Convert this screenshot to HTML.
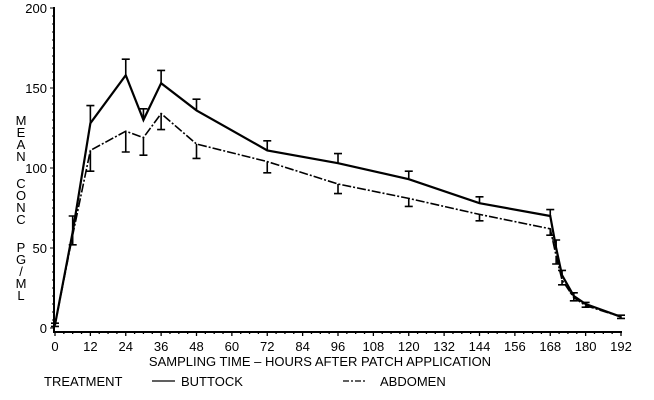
<!DOCTYPE html>
<html><head><meta charset="utf-8"><style>
body{margin:0;background:#fff}
svg{display:block;font-family:"Liberation Sans",Arial,sans-serif}
</style></head><body>
<svg id="c" width="654" height="400">
<g id="axes"></g>
<g id="marks"></g>
<g font-size="13" text-anchor="middle" fill="#000">
<text x="21" y="125">M</text><text x="21" y="137">E</text><text x="21" y="149">A</text><text x="21" y="161">N</text>
<text x="21" y="188">C</text><text x="21" y="200">O</text><text x="21" y="212">N</text><text x="21" y="224">C</text>
<text x="21" y="252">P</text><text x="21" y="264">G</text><text x="21" y="276">/</text><text x="21" y="288">M</text><text x="21" y="300">L</text>
</g>
<text x="320" y="366" font-size="13" text-anchor="middle">SAMPLING TIME – HOURS AFTER PATCH APPLICATION</text>
<g font-size="13">
<text x="44" y="386">TREATMENT</text>
<line x1="152" y1="381" x2="175" y2="381" stroke="#000" stroke-width="1.2"/>
<text x="181" y="386">BUTTOCK</text>
<line x1="343" y1="381" x2="366" y2="381" stroke="#000" stroke-width="1.2" stroke-dasharray="6,2,2,2"/>
<text x="380" y="386">ABDOMEN</text>
</g>
</svg>
<script>
const times=[0,6,12,24,30,36,48,72,96,120,144,168,170,172,176,180,192];
const buttock=[2,60,128,158,130,153,136,111,103,93,78,70,50,33,20,15,7];
const buttockUpper=[3,70,139,168,137,161,143,117,109,98,82,74,55,36,22,16,8];
const abdomen=[2,58,111,123,119,134,115,104,90,81,71,62,45,30,19,14,7];
const abdomenLower=[1,52,98,110,108,124,106,97,84,76,67,58,40,27,17,13,6];
const xTicks=[0,12,24,36,48,60,72,84,96,108,120,132,144,156,168,180,192];
const yTicks=[0,50,100,150,200];
const NS="http://www.w3.org/2000/svg";
const X=t=>55+t*566/192, Y=v=>328-v*1.6;
function mk(tag,attrs,parent){const e=document.createElementNS(NS,tag);for(const k in attrs)e.setAttribute(k,attrs[k]);parent.appendChild(e);return e;}
const ax=document.getElementById('axes'), mg=document.getElementById('marks');
let l=mk('line',{x1:54,y1:7,x2:54,y2:333,stroke:'#000','stroke-width':2},ax);


l=mk('line',{x1:53,y1:332,x2:622,y2:332,stroke:'#000','stroke-width':2},ax);


for(let t=0;t<=192;t+=3){mk('line',{x1:X(t),y1:332,x2:X(t),y2:t%12?334:336,stroke:'#000','stroke-width':1.3},ax);}
for(let v=0;v<=200;v+=5){mk('line',{x1:54,y1:Y(v),x2:v%50?52:50,y2:Y(v),stroke:'#000','stroke-width':1},ax);}
xTicks.forEach(t=>{const e=mk('text',{x:X(t),y:351,'font-size':13,'text-anchor':'middle'},ax);e.textContent=t;

});
yTicks.forEach(v=>{const e=mk('text',{x:47,y:Y(v)+5,'font-size':13,'text-anchor':'end'},ax);e.textContent=v;

});
function series(vals,err,dash,name){
  const p=mk('polyline',{points:times.map((t,i)=>X(t)+','+Y(vals[i])).join(' '),fill:'none',stroke:'#000','stroke-width':dash?1.6:2.2},mg);
  if(dash)p.setAttribute('stroke-dasharray','9,2,2,2');
  
  
  times.forEach((t,i)=>{const x=X(t);
    const g=mk('path',{d:`M${x},${Y(vals[i])}V${Y(err[i])}M${x-4},${Y(err[i])}H${x+4}`,stroke:'#000','stroke-width':1.6,fill:'none'},mg);
    
    });
}
series(buttock,buttockUpper,false,'buttock');
series(abdomen,abdomenLower,true,'abdomen');
</script>
</body></html>
